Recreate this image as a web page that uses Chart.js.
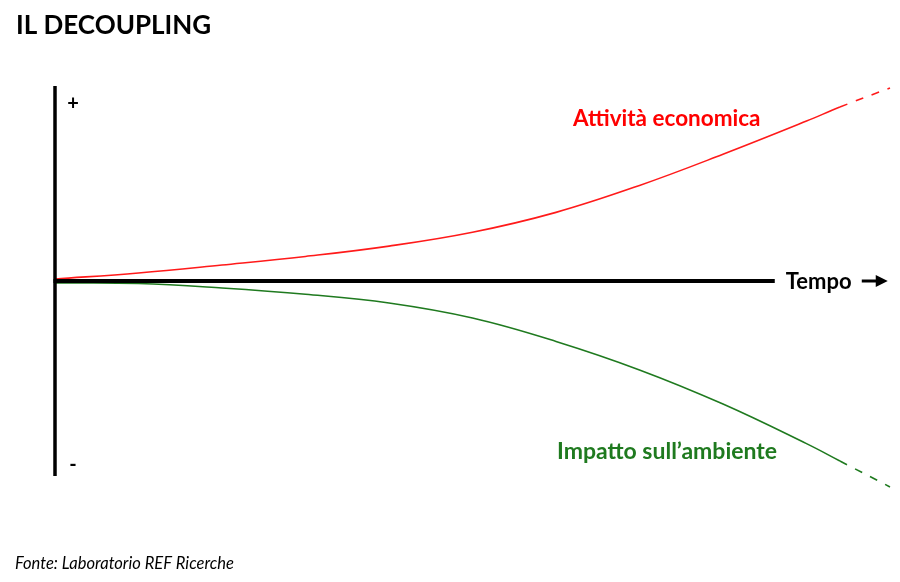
<!DOCTYPE html>
<html>
<head>
<meta charset="utf-8">
<script src="https://cdn.jsdelivr.net/npm/chart.js@4.4.1/dist/chart.umd.min.js"></script>
<style>
html,body{margin:0;padding:0;background:#fff;}
#wrap{position:relative;width:900px;height:582px;}
</style>
</head>
<body>
<div id="wrap"><canvas id="c"></canvas></div>
<script>
// Time (arbitrary units) and series values
const tempo = [0, 10, 20, 30, 40, 50, 60, 70, 80, 90, 94, 100];
const attivitaEconomica = [1, 4.1, 8.2, 12.6, 17.9, 25.0, 35.2, 49.0, 65.0, 82.0, 89.2, 99];
const impattoAmbiente = [-1, -1.3, -3.6, -6.8, -11.3, -19.0, -31.0, -45.6, -63.1, -83.4, -92.3, -105.6];
const projectionStart = 94; // beyond this the lines are dashed
const axisEnd = 86.2;       // where the time axis line stops

const labelsText = {
  title: 'IL DECOUPLING',
  red: 'Attività economica',
  green: 'Impatto sull\u2019ambiente',
  tempo: 'Tempo',
  plus: '+',
  minus: '-',
  source: 'Fonte: Laboratorio REF Ricerche'
};

const RED = '#ff1a1a';
const GREEN = '#1f7a1f';

const toXY = (xs, ys) => xs.map((x, i) => ({x: x, y: ys[i]}));

const decor = {
  id: 'decor',
  afterDatasetsDraw(chart) {
    const ctx = chart.ctx;
    const xs = chart.scales.x, ys = chart.scales.y;
    const x0 = xs.getPixelForValue(0);
    const y0 = ys.getPixelForValue(0);
    const yTop = ys.getPixelForValue(100);
    const yBot = ys.getPixelForValue(-100);
    const xEnd = xs.getPixelForValue(axisEnd);
    ctx.save();
    ctx.strokeStyle = '#000';
    ctx.lineCap = 'butt';
    // vertical axis
    ctx.lineWidth = 3.5;
    ctx.beginPath(); ctx.moveTo(x0, yTop); ctx.lineTo(x0, yBot); ctx.stroke();
    // horizontal axis
    ctx.lineWidth = 4;
    ctx.beginPath(); ctx.moveTo(x0 - 1.5, y0); ctx.lineTo(xEnd, y0); ctx.stroke();

    ctx.fillStyle = '#000';
    ctx.textBaseline = 'middle';
    ctx.font = 'bold 22px Lato';
    ctx.textAlign = 'left';
    ctx.fillText(labelsText.tempo, xEnd + 11, y0 + 1);
    // arrow
    const ax = xEnd + 87;
    ctx.lineWidth = 3;
    ctx.beginPath(); ctx.moveTo(ax, y0); ctx.lineTo(ax + 16, y0); ctx.stroke();
    ctx.beginPath();
    ctx.moveTo(ax + 26, y0); ctx.lineTo(ax + 14, y0 - 6); ctx.lineTo(ax + 14, y0 + 6); ctx.closePath();
    ctx.fill();

    // + / -
    ctx.font = 'bold 20px Lato';
    ctx.textAlign = 'center';
    ctx.fillText(labelsText.plus, x0 + 18, yTop + 18);
    ctx.fillText(labelsText.minus, x0 + 18, yBot - 11);

    // series labels
    ctx.textAlign = 'left';
    ctx.font = 'bold 22.5px Lato';
    ctx.fillStyle = '#ff0000';
    ctx.fillText(labelsText.red, 573, 119);
    ctx.font = 'bold 23px Lato';
    ctx.fillStyle = GREEN;
    ctx.fillText(labelsText.green, 557, 452);

    // title
    ctx.fillStyle = '#000';
    ctx.textBaseline = 'alphabetic';
    ctx.font = 'bold 26px Lato';
    ctx.fillText(labelsText.title, 16, 34);

    // source
    ctx.font = 'italic 16.5px Lato';
    ctx.fillText(labelsText.source, 15, 569);
    ctx.restore();
  }
};

const dashSeg = ctx => ctx.p0.parsed.x >= projectionStart ? [8, 9] : undefined;

new Chart(document.getElementById('c'), {
  type: 'line',
  data: {
    datasets: [
      {
        label: labelsText.red,
        data: toXY(tempo, attivitaEconomica),
        borderColor: RED,
        borderWidth: 1.6,
        pointRadius: 0,
        tension: 0.4,
        clip: false,
        segment: {borderDash: dashSeg}
      },
      {
        label: labelsText.green,
        data: toXY(tempo, impattoAmbiente),
        borderColor: GREEN,
        borderWidth: 1.6,
        pointRadius: 0,
        tension: 0.4,
        clip: false,
        segment: {borderDash: dashSeg}
      }
    ]
  },
  options: {
    responsive: true,
    maintainAspectRatio: false,
    animation: false,
    layout: {padding: {left: 55, right: 10, top: 86, bottom: 106}},
    plugins: {legend: {display: false}, tooltip: {enabled: false}, title: {display: false}},
    scales: {
      x: {type: 'linear', min: 0, max: 100, display: false},
      y: {type: 'linear', min: -100, max: 100, display: false}
    }
  },
  plugins: [decor]
});
</script>
</body>
</html>
